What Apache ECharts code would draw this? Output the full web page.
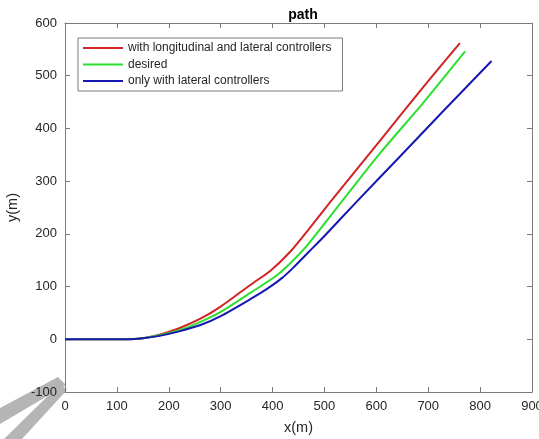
<!DOCTYPE html>
<html>
<head>
<meta charset="utf-8">
<script src="https://cdn.jsdelivr.net/npm/echarts@6/dist/echarts.min.js"></script>
<style>
html,body{margin:0;padding:0;background:#fff;}
#chart{width:539px;height:439px;}
</style>
</head>
<body>
<div id="chart"></div>
<script>
// ---- data (x in m, y in m) ----
const seriesNames = ['with longitudinal and lateral controllers', 'desired', 'only with lateral controllers'];
const redX   = [0, 60, 120, 150, 180, 220, 261, 300, 357, 396, 434, 470, 511, 608, 690, 761];
const redY   = [0, 0, 0, 2, 8, 21, 39, 62, 103, 130, 166, 209, 260, 378, 478, 562];
const greenX = [0, 60, 120, 150, 180, 220, 261, 300, 357, 409, 440, 470, 534, 608, 690, 771];
const greenY = [0, 0, 0, 2, 7, 17, 33, 52, 88, 122, 150, 182, 262, 354, 448, 546];
const blueX  = [0, 60, 120, 150, 180, 220, 261, 300, 357, 390, 418, 440, 470, 500, 565, 641, 730, 822];
const blueY  = [0, 0, 0, 2, 6, 15, 27, 44, 76, 96, 116, 136, 166, 196, 264, 342, 434, 528];
const xTicks = {min: 0, max: 900, step: 100};
const yTicks = {min: -100, max: 600, step: 100};

function pairs(xs, ys){ return xs.map((x,i)=>[x, ys[i]]); }

const chart = echarts.init(document.getElementById('chart'), null, {renderer:'canvas'});
const axisColor = '#7a7a7a';
const textColor = '#262626';
const font = 'Liberation Sans, Arial, Helvetica, sans-serif';

function baseAxis(extra){
  return Object.assign({
    type: 'value',
    axisLine: {show: true, onZero: false, lineStyle: {color: axisColor, width: 1}},
    axisTick: {show: true, inside: true, length: 5, lineStyle: {color: axisColor}},
    splitLine: {show: false},
    axisLabel: {color: textColor, fontSize: 13, fontFamily: font},
  }, extra);
}

const option = {
  animation: false,
  backgroundColor: '#ffffff',
  title: {
    text: 'path', left: 298, top: 3, textAlign: 'center',
    textStyle: {fontSize: 14, fontWeight: 'bold', color: '#000', fontFamily: font}
  },
  grid: {left: 65, right: 7, top: 23, bottom: 47, containLabel: false, outerBoundsMode: 'none'},
  legend: {
    orient: 'vertical', left: 78, top: 38,
    icon: 'rect', itemWidth: 40, itemHeight: 2, itemGap: 4.5,
    padding: [4, 11, 4, 5],
    borderColor: axisColor, borderWidth: 1, backgroundColor: '#fff',
    textStyle: {fontSize: 12, color: textColor, fontFamily: font},
    data: seriesNames
  },
  xAxis: [
    baseAxis({min: xTicks.min, max: xTicks.max, interval: xTicks.step, position: 'bottom',
      name: 'x(m)', nameLocation: 'middle', nameGap: 28,
      nameTextStyle: {fontSize: 14.5, color: textColor, fontFamily: font},
      axisLabel: {color: textColor, fontSize: 13, fontFamily: font, margin: 8}}),
    baseAxis({min: xTicks.min, max: xTicks.max, interval: xTicks.step, position: 'top',
      axisLabel: {show: false}})
  ],
  yAxis: [
    baseAxis({min: yTicks.min, max: yTicks.max, interval: yTicks.step, position: 'left',
      name: 'y(m)', nameLocation: 'middle', nameGap: 33, nameRotate: 90,
      nameTextStyle: {fontSize: 14.5, color: textColor, fontFamily: font},
      axisLabel: {color: textColor, fontSize: 13, fontFamily: font, margin: 8}}),
    baseAxis({min: yTicks.min, max: yTicks.max, interval: yTicks.step, position: 'right',
      axisLabel: {show: false}})
  ],
  graphic: [
    {type: 'polygon', z: -5, silent: true,
     shape: {points: [[0,408],[58,377],[66,385],[0,424]]}, style: {fill: '#b5b5b5'}},
    {type: 'polygon', z: -5, silent: true,
     shape: {points: [[60,384],[67,390],[22,439],[4,439]]}, style: {fill: '#b5b5b5'}}
  ],
  series: [
    {name: seriesNames[0], type: 'line', data: pairs(redX, redY), symbol: 'none',
     smooth: 0.25, lineStyle: {color: '#d22424', width: 2}, itemStyle: {color: '#d22424'}},
    {name: seriesNames[1], type: 'line', data: pairs(greenX, greenY), symbol: 'none',
     smooth: 0.25, lineStyle: {color: '#2ddf2d', width: 2}, itemStyle: {color: '#2ddf2d'}},
    {name: seriesNames[2], type: 'line', data: pairs(blueX, blueY), symbol: 'none',
     smooth: 0.25, lineStyle: {color: '#1717b4', width: 2}, itemStyle: {color: '#1717b4'}}
  ]
};
chart.setOption(option);
</script>
</body>
</html>
